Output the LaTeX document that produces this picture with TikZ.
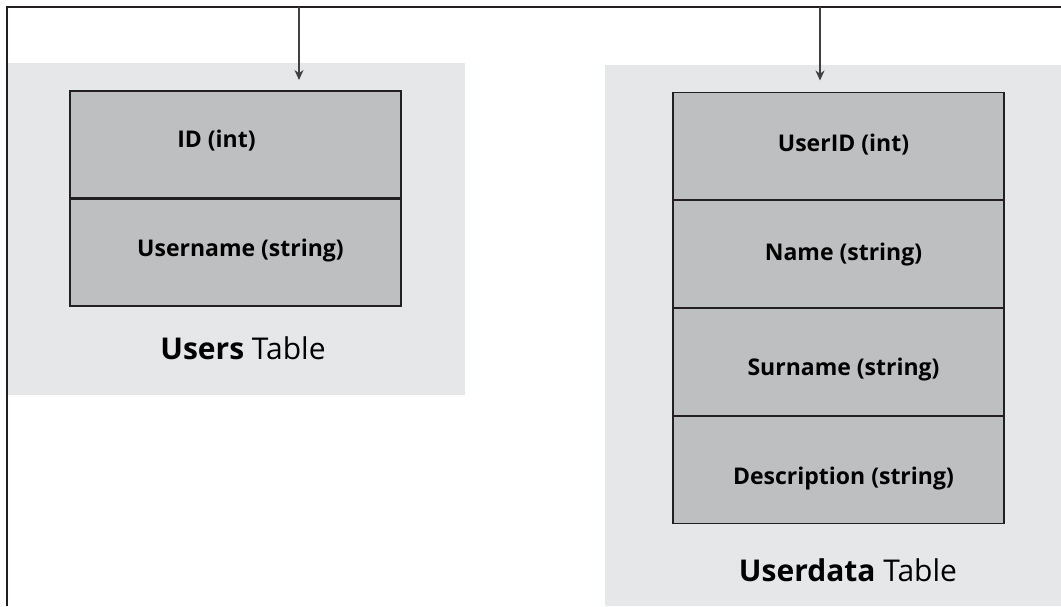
\documentclass[tikz,border=0pt]{standalone}
\usepackage{fontspec}
\setmainfont{Open Sans}
\usepackage{tikz}
\usetikzlibrary{positioning,arrows.meta}

\definecolor{panelgray}{HTML}{E6E7E9}
\definecolor{fieldgray}{HTML}{BEBFC1}
\definecolor{edgedark}{HTML}{231F20}

\begin{document}
\begin{tikzpicture}[x=1pt,y=-1pt,
  field/.style={draw=edgedark, line width=1.8pt, fill=fieldgray, minimum width=331pt,
    minimum height=107pt, outer sep=0pt, inner sep=0pt},
  fieldtext/.style={font=\fontsize{23}{27}\selectfont\bfseries, inner sep=0pt},
  caption/.style={font=\fontsize{30}{34}\selectfont},
  link/.style={draw=black!75, line width=1.2pt, -{Stealth[length=10pt,width=9pt]}}]
\useasboundingbox (0,0) rectangle (1061,606);
% background panels
\fill[panelgray] (7,63) rectangle (465,395);
\fill[panelgray] (605,65) rectangle (1061,606);
% frame
\draw[line width=1.8pt, edgedark] (7,606) -- (7,7) -- (1061,7);
% Users table
\node[field] (id) at (235.5,144.5) {};
\node[field, below=1pt of id] (uname) {};
\node[fieldtext] (idtxt) at ([xshift=-19pt,yshift=4pt]id.center) {ID (int)};
\node[fieldtext] (untxt) at ([xshift=5pt,yshift=2pt]uname.center) {Username (string)};
\node[caption] (usercap) at (243,348) {\textbf{Users} Table};
% Userdata table
\node[field] (uid) at (838.5,146) {};
\node[field, below=1pt of uid] (name) {};
\node[field, below=1pt of name] (surname) {};
\node[field, below=1pt of surname] (descr) {};
\node[fieldtext] (uidtxt) at ([xshift=5pt,yshift=1pt]uid.center) {UserID (int)};
\node[fieldtext] (nametxt) at ([xshift=5pt,yshift=-1pt]name.center) {Name (string)};
\node[fieldtext] (surtxt) at ([xshift=5pt,yshift=-8pt]surname.center) {Surname (string)};
\node[fieldtext] (desctxt) at ([xshift=5pt,yshift=-9pt]descr.center) {Description (string)};
\node[caption] (datacap) at (848,570) {\textbf{Userdata} Table};
% links from the top line
\coordinate (t1) at (299,7);
\coordinate (t2) at (820,7);
\draw[link] (t1) -- ([yshift=11pt]t1 |- id.north);
\draw[link] (t2) -- ([yshift=12pt]t2 |- uid.north);
\end{tikzpicture}
\end{document}
